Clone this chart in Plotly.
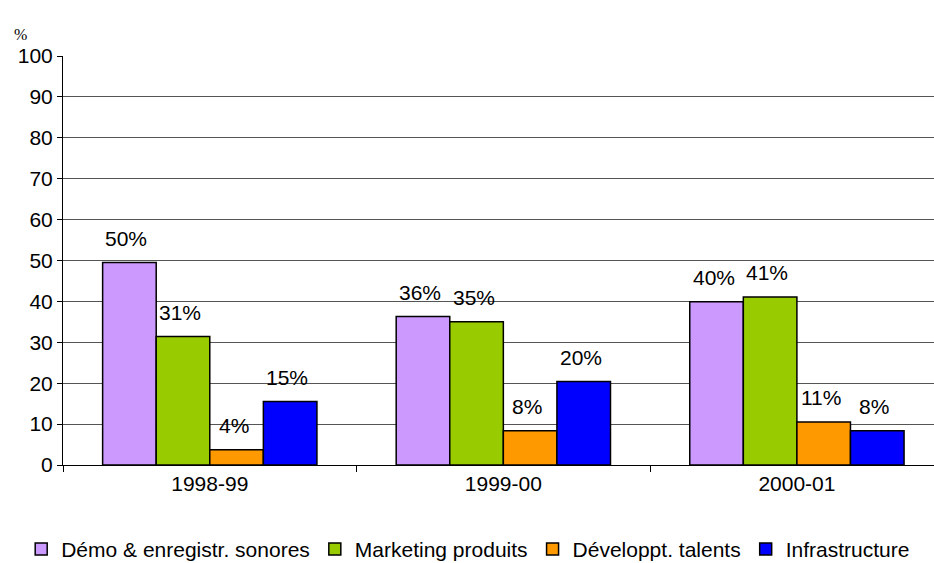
import plotly.graph_objects as go

categories = ["1998-99", "1999-00", "2000-01"]
series_names = ["Démo & enregistr. sonores", "Marketing produits", "Développt. talents", "Infrastructure"]
demo = [49.5, 36.3, 39.9]
marketing = [31.4, 35.0, 41.1]
talents = [3.7, 8.4, 10.5]
infra = [15.5, 20.4, 8.4]
labels_demo = ["50%", "36%", "40%"]
labels_marketing = ["31%", "35%", "41%"]
labels_talents = ["4%", "8%", "11%"]
labels_infra = ["15%", "20%", "8%"]
colors = ["#CC99FF", "#99CC00", "#FF9900", "#0000FF"]

values = [demo, marketing, talents, infra]
labels = [labels_demo, labels_marketing, labels_talents, labels_infra]

W, H = 934, 563
ML, MR, MT, MB = 63, 0, 56, 98
BARGAP = 0.27
XMAX = 2.467

FONT = "Arial, Liberation Sans, sans-serif"
FS = 21

fig = go.Figure()
for name, vals, col in zip(series_names, values, colors):
    fig.add_trace(go.Bar(
        x=list(range(len(categories))), y=vals, name=name,
        marker=dict(color=col, line=dict(color="#000000", width=1.5)),
        hoverinfo="skip",
    ))

# pixel geometry for label offsets
plot_w = W - ML - MR
cat_px = plot_w / (XMAX + 0.5)
bar_px = cat_px * (1 - BARGAP) / len(values)

annotations = []
for i, (vals, labs) in enumerate(zip(values, labels)):
    for j, (v, t) in enumerate(zip(vals, labs)):
        annotations.append(dict(
            x=j, y=v, xref="x", yref="y", text=t, showarrow=False,
            xanchor="center", yanchor="bottom",
            xshift=(i - 1.5) * bar_px - 3, yshift=11,
            font=dict(family=FONT, size=FS, color="#000000"),
        ))

annotations.append(dict(
    x=0, y=1, xref="paper", yref="paper", text="%", showarrow=False,
    xanchor="right", yanchor="bottom", xshift=-34, yshift=11,
    font=dict(family="Liberation Serif, Times New Roman, serif", size=16, color="#000000"),
))

fig.update_layout(
    width=W, height=H,
    margin=dict(l=ML, r=MR, t=MT, b=MB, pad=0, autoexpand=False),
    paper_bgcolor="white", plot_bgcolor="white",
    barmode="group", bargap=BARGAP, bargroupgap=0,
    font=dict(family=FONT, size=FS, color="#000000"),
    showlegend=True,
    legend=dict(
        orientation="h", x=-0.048, y=-0.206, xanchor="left", yanchor="middle",
        font=dict(family=FONT, size=FS, color="#000000"),
        bgcolor="rgba(0,0,0,0)", itemclick=False, itemdoubleclick=False,
    ),
    annotations=annotations,
)

fig.update_xaxes(
    type="linear", range=[-0.5, XMAX],
    tickmode="array", tickvals=list(range(len(categories))), ticktext=categories,
    showline=True, linecolor="#000000", linewidth=1,
    showgrid=False, zeroline=False, ticks="", ticklen=0,
    tickfont=dict(family=FONT, size=FS), automargin=False,
)
# boundary tick marks via minor ticks
fig.update_xaxes(minor=dict(tickmode="array", tickvals=[-0.5, 0.5, 1.5, 2.5], ticks="outside", ticklen=6, tickcolor="#000000", showgrid=False))

fig.update_yaxes(
    range=[0, 100], dtick=10, tick0=0,
    showline=True, linecolor="#000000", linewidth=1,
    showgrid=True, gridcolor="#555555", gridwidth=1,
    zeroline=False, ticks="outside", ticklen=5, tickcolor="#000000",
    tickfont=dict(family=FONT, size=FS), automargin=False,
)

fig.write_html("out.html")
